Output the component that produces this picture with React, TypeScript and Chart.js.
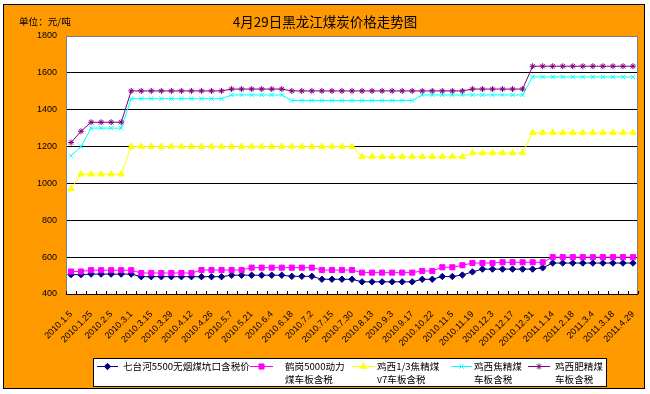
import React, { useEffect, useRef } from "react";
import { Chart, registerables } from "chart.js";
import { drawPoint } from "chart.js/helpers";

Chart.register(...registerables);

const chartTitle = "4月29日黑龙江煤炭价格走势图";
const unitText = "单位：元/吨";

const tickLabels = [
  "2010.1.5", "2010.1.25", "2010.2.5", "2010.3.1", "2010.3.15", "2010.3.29",
  "2010.4.12", "2010.4.26", "2010.5.7", "2010.5.21", "2010.6.4", "2010.6.18",
  "2010.7.2", "2010.7.15", "2010.7.30", "2010.8.13", "2010.9.3", "2010.9.17",
  "2010.10.22", "2010.11.5", "2010.11.19", "2010.12.3", "2010.12.17", "2010.12.31",
  "2011.1.14", "2011.2.18", "2011.3.4", "2011.3.18", "2011.4.29",
];

// weekly points; only every second week carries a date label on the axis
const categories = Array.from({ length: tickLabels.length * 2 - 1 }, (_, i) =>
  i % 2 === 0 ? tickLabels[i / 2] : ""
);

const qitaihe = [
  505, 505,
  508, 508, 508, 508, 508,
  494, 494, 494, 494, 494, 494, 494, 494, 494,
  502, 502, 502, 502, 502, 502,
  496, 496, 496,
  480, 480, 480, 480,
  466, 466, 466, 466, 466, 466,
  480, 480,
  495, 495,
  503,
  520,
  535, 535, 535, 535, 535, 535,
  542,
  568, 568, 568, 568, 568, 568, 568, 568, 568,
];

const hegang = [
  522, 522,
  529, 529, 529, 529, 529,
  514, 514, 514, 514, 514, 514,
  530, 530, 530, 530, 530,
  543, 543, 543, 543, 543, 543, 543,
  530, 530, 530, 530,
  516, 516, 516, 516, 516, 516,
  525, 525,
  545, 545,
  556,
  568, 568, 568,
  572, 572, 572, 572, 572,
  600, 600, 600, 600, 600, 600, 600, 600, 600,
];

const jixiOneThird = [
  970,
  1050, 1050, 1050, 1050, 1050,
  1200, 1200, 1200, 1200, 1200, 1200, 1200, 1200, 1200, 1200, 1200, 1200,
  1200, 1200, 1200, 1200, 1200, 1200, 1200, 1200, 1200, 1200, 1200,
  1145, 1145, 1145, 1145, 1145, 1145, 1145, 1145, 1145, 1145, 1145,
  1165, 1165, 1165, 1165, 1165, 1165,
  1275, 1275, 1275, 1275, 1275, 1275, 1275, 1275, 1275, 1275, 1275,
];

const jixiCoking = [
  1150,
  1200,
  1300, 1300, 1300, 1300,
  1460, 1460, 1460, 1460, 1460, 1460, 1460, 1460, 1460, 1460,
  1480, 1480, 1480, 1480, 1480, 1480,
  1450, 1450, 1450, 1450, 1450, 1450, 1450, 1450, 1450, 1450, 1450, 1450, 1450,
  1480, 1480, 1480, 1480, 1480, 1480, 1480, 1480, 1480, 1480, 1480,
  1578, 1578, 1578, 1578, 1578, 1578, 1578, 1578, 1578, 1578, 1578,
];

const jixiFat = [
  1222,
  1283,
  1332, 1332, 1332, 1332,
  1502, 1502, 1502, 1502, 1502, 1502, 1502, 1502, 1502, 1502,
  1512, 1512, 1512, 1512, 1512, 1512,
  1502, 1502, 1502, 1502, 1502, 1502, 1502, 1502, 1502,
  1502, 1502, 1502, 1502, 1502, 1502, 1502, 1502, 1502,
  1512, 1512, 1512, 1512, 1512, 1512,
  1636, 1636, 1636, 1636, 1636, 1636, 1636, 1636, 1636, 1636, 1636,
];

const seriesNames = [
  ["七台河5500无烟煤坑口含税价"],
  ["鹤岗5000动力", "煤车板含税"],
  ["鸡西1/3焦精煤", "v7车板含税"],
  ["鸡西焦精煤", "车板含税"],
  ["鸡西肥精煤", "车板含税"],
];
const seriesValues = [qitaihe, hegang, jixiOneThird, jixiCoking, jixiFat];
const seriesColors = ["#000080", "#FF00FF", "#FFFF00", "#00FFFF", "#800080"];
const seriesMarkers = ["rectRot", "rect", "triangle", "crossRot", "star"];
const seriesRadius = [3.2, 3.6, 3.6, 3, 3];

const CJK = "'Noto Sans CJK SC', 'Noto Sans', sans-serif";

// legend layout (sample start, sample end, text start)
const legendSlots = [
  [97, 118, 123],
  [250, 273, 285],
  [352, 375, 377],
  [451, 472, 474],
  [528, 550, 555],
];

const decor = {
  id: "decor",
  beforeDraw(chart: any) {
    const { ctx, chartArea: a, width, height } = chart;
    ctx.save();
    ctx.fillStyle = "#ffffff";
    ctx.fillRect(0, 0, width, height);
    ctx.fillStyle = "#FF9900";
    ctx.fillRect(3, 4, 642, 385);
    ctx.strokeStyle = "#000";
    ctx.lineWidth = 1;
    ctx.strokeRect(3.5, 4.5, 641, 384);
    ctx.fillStyle = "#ffffff";
    ctx.fillRect(a.left, a.top, a.right - a.left, a.bottom - a.top);
    ctx.fillStyle = "#000";
    ctx.textBaseline = "middle";
    ctx.textAlign = "center";
    ctx.font = `13.5px ${CJK}`;
    ctx.fillText(chartTitle, 325, 22);
    ctx.textAlign = "left";
    ctx.font = `9.6px ${CJK}`;
    ctx.fillText(unitText, 19, 21);
    ctx.restore();
  },
  afterDraw(chart: any) {
    const { ctx, chartArea: a } = chart;
    const xs = chart.scales.x;
    ctx.save();
    // plot border
    ctx.strokeStyle = "#808080";
    ctx.lineWidth = 1;
    ctx.strokeRect(a.left + 0.5, a.top + 0.5, a.right - a.left - 1, a.bottom - a.top);
    // category axis line and inward ticks at category boundaries
    ctx.strokeStyle = "#000";
    ctx.beginPath();
    ctx.moveTo(a.left, a.bottom + 0.5);
    ctx.lineTo(a.right, a.bottom + 0.5);
    const step = xs.getPixelForValue(1) - xs.getPixelForValue(0);
    for (let k = 0; k <= categories.length; k++) {
      const x = Math.round(xs.getPixelForValue(k) - step / 2) + 0.5;
      ctx.moveTo(x, a.bottom);
      ctx.lineTo(x, a.bottom - 3);
    }
    ctx.stroke();

    // legend
    const top = 358, bottom = 386, left = 93, right = 606;
    ctx.fillStyle = "#ffffff";
    ctx.fillRect(left, top, right - left, bottom - top);
    ctx.strokeStyle = "#000";
    ctx.strokeRect(left + 0.5, top + 0.5, right - left, bottom - top);
    ctx.font = `9.6px ${CJK}`;
    ctx.textBaseline = "middle";
    ctx.textAlign = "left";
    seriesNames.forEach((lines, i) => {
      const [s0, s1, tx] = legendSlots[i];
      const y = 366.5;
      ctx.strokeStyle = seriesColors[i];
      ctx.fillStyle = seriesColors[i];
      ctx.lineWidth = 1;
      ctx.beginPath();
      ctx.moveTo(s0, y);
      ctx.lineTo(s1, y);
      ctx.stroke();
      drawPoint(ctx, { pointStyle: seriesMarkers[i], radius: seriesRadius[i], rotation: 0, borderWidth: 1 } as any, (s0 + s1) / 2, y);
      ctx.fillStyle = "#000";
      lines.forEach((t, j) => ctx.fillText(t, tx, 366 + j * 13));
    });
    ctx.restore();
  },
};

export default function App() {
  const ref = useRef<HTMLCanvasElement | null>(null);
  useEffect(() => {
    if (!ref.current) return;
    const chart = new Chart(ref.current, {
      type: "line",
      data: {
        labels: categories,
        datasets: seriesValues.map((vals, i) => ({
          label: seriesNames[i].join(""),
          data: vals,
          borderColor: seriesColors[i],
          backgroundColor: seriesColors[i],
          borderWidth: 1,
          tension: 0,
          pointStyle: seriesMarkers[i] as any,
          pointRadius: seriesRadius[i],
          pointBorderWidth: 1,
          pointBackgroundColor: seriesColors[i],
          pointBorderColor: seriesColors[i],
          order: seriesValues.length - i,
        })),
      },
      options: {
        responsive: false,
        animation: false,
        layout: { padding: { top: 36, right: 12, left: 0, bottom: 0 } },
        plugins: {
          legend: { display: false },
          title: { display: false },
          tooltip: { enabled: false },
        },
        scales: {
          x: {
            type: "category",
            offset: true,
            grid: { display: false },
            border: { display: false },
            ticks: {
              autoSkip: false,
              minRotation: 45,
              maxRotation: 45,
              padding: 7,
              color: "#000",
              font: { family: "'Liberation Sans', sans-serif", size: 9 },
            },
            afterFit: (s: any) => {
              s.height = 100;
            },
          },
          y: {
            min: 400,
            max: 1800,
            ticks: {
              stepSize: 200,
              padding: 9,
              color: "#000",
              font: { family: "'Liberation Sans', sans-serif", size: 9 },
              callback: (v: any) => String(v),
            },
            grid: { color: "#000", lineWidth: 1, drawTicks: false },
            border: { display: false },
            afterFit: (s: any) => {
              s.width = 66;
            },
          },
        },
      },
      plugins: [decor],
    });
    return () => chart.destroy();
  }, []);
  return (
    <div style={{ position: "fixed", left: 0, top: 0, width: 650, height: 394 }}>
      <canvas ref={ref} width={650} height={394} style={{ display: "block" }} />
    </div>
  );
}
